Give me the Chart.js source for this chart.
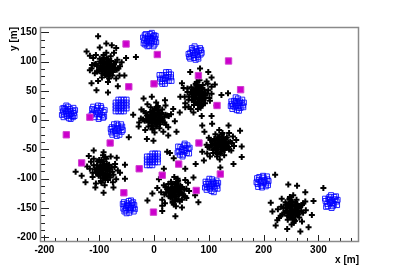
<!DOCTYPE html>
<html>
<head>
<meta charset="utf-8">
<script src="https://cdn.jsdelivr.net/npm/chart.js@4.4.1/dist/chart.umd.min.js"></script>
<style>
  html, body { margin: 0; padding: 0; background: #fff; }
  .chart-holder { width: 399px; height: 270px; }
</style>
</head>
<body>
<div class="chart-holder"><canvas id="chart" width="399" height="270"></canvas></div>
<script>
// black "+" clusters: centre (x, y) in m, then the offsets of each marker
const crossCenters = [[-87, 91], [2, 4], [81, 43], [-92, -85], [120, -42], [39, -122], [252, -153]];
const crossOffsets = [
  [[0,0],[4,3],[-5,-2],[8,-5],[-7,6],[2,9],[-3,-8],[11,2],[-10,-3],[12,-9],[-12,9],[6,-12],[-6,12],[14,5],[-14,-6],[1,14],[-2,-14],[9,10],[-9,-11],[16,-2],[-17,2],[4,-17],[-5,16],[11,-15],[-12,14],[20,12],[-21,-11],[18,-20],[-19,20],[25,1],[-26,3],[0,24],[3,-26],[24,-15],[-24,15],[14,24],[-15,-24],[28,8],[-30,-6],[-15,52],[0,40],[-12,33],[18,32],[-30,19],[54,17],[36,15],[-27,-3],[33,-15],[-27,-28],[-18,-40],[3,-44],[21,-33],[-36,26],[10,37],
   [2,5],[-3,4],[6,-2],[-6,1],[1,-5],[-1,-4],[5,7],[-7,-7],[8,1],[-8,-1],[3,12],[-3,-12],[13,2],[-13,-1],[7,-9],[-7,9],[10,-6],[-10,6],[17,8],[-17,-8],[8,18],[-8,-18],[19,-5],[-19,5],[5,-20],[-5,20],[22,-3],[-22,4],[4,-9],[-4,8]],
  [[0,0],[-4,3],[5,-3],[-8,-5],[7,6],[-2,9],[3,-9],[-11,1],[10,-2],[-12,-8],[12,8],[-6,-13],[6,13],[-15,4],[14,-5],[-1,15],[2,-15],[-9,10],[9,-11],[-16,-3],[17,2],[-4,-18],[5,17],[-12,-15],[13,14],[-21,11],[20,-12],[-18,-21],[19,21],[-26,-1],[25,3],[-1,-25],[2,26],[-25,14],[24,-16],[-14,23],[15,-24],[-29,-8],[29,6],[-21,33],[-6,36],[18,30],[33,15],[45,9],[39,-24],[24,-30],[-48,-33],[-30,-15],[-15,-36],[-3,-39],[27,-60],[22,-58],[-40,5],[36,-6],
   [-2,5],[3,4],[-6,-2],[6,1],[-1,-5],[1,-4],[-5,7],[7,-7],[-8,1],[8,-1],[-3,12],[3,-12],[-13,2],[13,-1],[-7,-9],[7,9],[-10,-6],[10,6],[-17,8],[17,-8],[-8,18],[8,-18],[-19,-5],[19,5],[-5,-20],[5,20],[-22,-3],[22,4],[-4,-9],[4,8]],
  [[0,0],[4,-3],[-4,3],[7,5],[-8,-5],[-2,8],[2,-9],[10,-1],[-11,2],[11,9],[-12,-9],[5,12],[-6,-12],[13,-5],[-14,5],[-1,-14],[1,15],[-9,9],[9,-10],[16,2],[-17,-2],[-4,17],[5,-17],[-13,13],[12,-14],[21,-10],[-20,11],[17,19],[-18,-20],[24,2],[-25,-3],[-1,-24],[2,25],[-24,-14],[24,14],[-14,-24],[15,23],[3,45],[18,39],[-15,39],[24,30],[30,18],[54,3],[42,0],[-33,-3],[-27,12],[-24,-21],[-9,-30],[6,-36],[24,-36],[-30,20],[33,-18],
   [5,2],[4,-3],[-2,6],[1,-6],[-5,1],[-4,-1],[7,5],[-7,-7],[1,8],[-1,-8],[12,3],[-12,-3],[2,13],[-1,-13],[-9,7],[9,-7],[-6,10],[6,-10],[8,17],[-8,-17],[18,8],[-18,-8],[-5,19],[5,-19],[-20,5],[20,-5],[-3,22],[4,-22],[-9,4],[8,-4]],
  [[0,0],[3,4],[-4,-3],[7,-6],[-7,5],[-2,9],[3,-8],[10,3],[-10,-2],[11,-10],[-12,8],[5,-12],[-6,13],[15,4],[-14,-5],[0,15],[-1,-14],[10,9],[-9,-10],[16,-3],[-16,1],[3,-17],[-4,17],[12,-13],[-11,15],[21,10],[-20,-12],[17,-21],[-18,19],[26,-1],[-25,2],[-1,25],[2,-26],[23,-16],[-23,14],[13,23],[-14,-23],[-51,-3],[-18,33],[0,30],[24,21],[39,9],[39,-15],[-30,6],[-33,-21],[-15,-30],[0,-39],[18,-30],[-27,24],[30,-5],[-40,-10],
   [-5,2],[-4,-3],[2,6],[-1,-6],[5,1],[4,-1],[-7,5],[7,-7],[-1,8],[1,-8],[-12,3],[12,-3],[-2,13],[1,-13],[9,7],[-9,-7],[6,10],[-6,-10],[-8,17],[8,-17],[-18,8],[18,-8],[5,19],[-5,-19],[20,5],[-20,-5],[3,22],[-4,-22],[9,4],[-8,-4]],
  [[0,0],[-3,4],[4,-4],[-7,-5],[8,5],[-3,8],[2,-8],[-10,2],[11,-3],[-12,-9],[11,10],[-5,-13],[6,12],[-14,5],[15,-4],[-1,14],[1,-15],[-10,10],[9,-9],[-16,-1],[16,3],[-4,-16],[4,17],[-12,-14],[13,13],[-20,12],[21,-10],[-18,-20],[17,20],[-24,0],[26,-2],[0,-25],[-1,25],[-23,-15],[24,14],[-32,33],[-14,36],[16,33],[37,24],[40,-3],[40,-21],[25,-33],[1,-39],[-29,-27],[-44,-33],[-32,-12],[30,8],[-28,22],
   [2,-5],[-3,-4],[6,2],[-6,-1],[1,5],[-1,4],[5,-7],[-7,7],[8,-1],[-8,1],[3,-12],[-3,12],[13,-2],[-13,1],[7,9],[-7,-9],[10,6],[-10,-6],[17,-8],[-17,8],[8,-18],[-8,18],[19,5],[-19,-5],[5,20],[-5,-20],[22,3],[-22,-4],[4,9],[-4,-8]],
  [[0,0],[4,3],[-4,-3],[7,-5],[-8,5],[3,9],[-2,-9],[10,-2],[-11,1],[12,8],[-12,-8],[5,-13],[-5,12],[14,-6],[-15,4],[0,-15],[1,14],[9,10],[-9,-10],[16,3],[-17,-2],[-5,-17],[4,17],[12,-14],[-13,13],[20,-11],[-21,11],[18,20],[-19,-20],[25,1],[-26,-1],[1,-25],[-2,25],[23,15],[-24,-14],[-3,57],[-21,39],[18,39],[33,24],[-30,21],[-33,6],[-42,-3],[-51,-15],[-24,-33],[0,-42],[12,-27],[42,-18],[36,-6],[-24,-24],
   [5,-2],[4,3],[-2,-6],[1,6],[-5,-1],[-4,1],[7,-5],[-7,7],[1,-8],[-1,8],[12,-3],[-12,3],[2,-13],[-1,13],[-9,-7],[9,7],[-6,-10],[6,10],[8,-17],[-8,17],[18,-8],[-18,8],[-5,-19],[5,19],[-20,-5],[20,5],[-3,-22],[4,22],[-9,-4],[8,4]],
  [[0,0],[-4,3],[4,-3],[-7,-6],[8,6],[-2,9],[3,-9],[-11,-2],[10,2],[-12,9],[12,-8],[-5,-12],[6,13],[-14,-5],[15,5],[1,-15],[-1,14],[-9,-10],[9,10],[-16,3],[17,-2],[4,-17],[-4,17],[-12,13],[13,-13],[-21,-10],[20,11],[-19,19],[18,-20],[-26,1],[25,-1],[2,25],[-1,-25],[-24,-14],[24,14],[-31,60],[57,37],[-7,43],[9,41],[24,30],[39,15],[-39,12],[-36,-3],[-27,-18],[-30,-27],[-9,-33],[15,-37],[30,-30],[36,-9],
   [-5,-2],[-4,3],[2,-6],[-1,6],[5,-1],[4,1],[-7,-5],[7,7],[-1,-8],[1,8],[-12,-3],[12,3],[-2,-13],[1,13],[9,-7],[-9,7],[6,-10],[-6,10],[-8,-17],[8,17],[-18,-8],[18,8],[5,-19],[-5,19],[20,-5],[-20,5],[3,-22],[-4,22],[9,-4],[-8,4]],
];

// blue open-square clusters
const boxCenters = [[-8, 137], [75, 114], [-156, 13], [-102, 13], [-60, 25], [-68, -16], [21, 72], [54, -51], [-3, -67], [-46, -148], [152, 27], [105, -111], [198, -105], [323, -139]];
const boxOffsets = [
  [[0,0],[5,2],[-5,-2],[3,-6],[-3,6],[8,-3],[-8,3],[6,6],[-6,-6],[10,2],[-10,-1],[1,10],[-1,-10],[9,-8],[-9,8],[11,7],[-11,-6],[4,12],[-4,-11],[12,-4],[-12,4],[7,-11],[-7,10],[2,3],[-2,-4],[4,-2],[-4,2],[8,8],[-8,-8]],
  [[0,0],[4,-3],[-4,3],[7,4],[-7,-4],[2,8],[-2,-8],[10,-2],[-9,1],[6,-9],[-6,9],[11,6],[-11,-6],[-1,12],[1,-11],[9,9],[-9,-9],[3,3],[-3,-3],[5,-6],[-5,6],[12,1],[-12,-1]],
  [[0,0],[-5,2],[5,-2],[-3,-6],[3,6],[-8,-3],[8,3],[-6,6],[6,-6],[-10,2],[10,-1],[-1,10],[1,-10],[-9,-8],[9,8],[-11,7],[11,-6],[-4,12],[4,-11],[-12,-4],[12,4],[-2,3],[2,-4],[-4,-2],[4,2],[-8,8],[8,-8]],
  [[0,0],[4,3],[-4,-3],[7,-4],[-7,4],[2,-8],[-2,8],[10,1],[-10,-1],[6,8],[-6,-8],[11,-7],[-11,6],[0,12],[1,-11],[-9,10],[9,-9],[12,4],[3,-3],[-3,3],[-12,-4],[5,11]],
  [[0,0],[5,0],[-5,0],[0,5],[0,-5],[5,5],[-5,-5],[5,-5],[-5,5],[10,0],[-10,0],[0,10],[0,-10],[10,5],[-10,-5],[5,10],[-5,-10],[10,-5],[-10,5],[-5,10],[5,-10],[10,10],[-10,-10]],
  [[0,0],[4,-3],[-4,3],[7,3],[-7,-3],[2,7],[-2,-7],[9,-4],[-9,4],[5,-9],[-5,9],[10,5],[-10,-5],[0,10],[0,-11],[8,9],[-8,-9],[3,2],[-3,-2],[-11,1],[11,-1]],
  [[0,0],[5,1],[-5,-1],[1,5],[-1,-5],[6,6],[-6,-6],[6,-5],[-6,5],[10,1],[-10,-1],[1,10],[-1,-10],[10,6],[-10,-6],[6,10],[-6,-10],[11,-5],[-11,5]],
  [[0,0],[4,3],[-4,-3],[6,-5],[-6,5],[1,8],[-1,-8],[9,2],[-9,-2],[7,8],[-7,-8],[10,-6],[-10,6],[2,11],[-2,-11],[11,4],[-11,-4],[3,-2],[-3,2]],
  [[0,0],[5,0],[-5,0],[0,5],[0,-5],[5,5],[-5,-5],[5,-5],[-5,5],[10,0],[-10,0],[0,10],[0,-10],[10,5],[-10,-5],[10,-5],[-10,5],[5,10],[-5,-10],[10,10],[-10,-10]],
  [[0,0],[5,2],[-5,-2],[3,-6],[-3,6],[8,-2],[-8,2],[6,6],[-6,-6],[10,3],[-10,-3],[0,10],[1,-10],[9,-8],[-9,8],[11,-4],[-11,5],[4,11],[-4,-11],[2,-3],[-2,3],[-4,2],[4,-2],[-8,-8],[8,8]],
  [[0,0],[-4,2],[4,-2],[2,-6],[-2,6],[-8,-2],[8,2],[-6,6],[6,-6],[-10,1],[10,-2],[1,10],[-1,-10],[-9,-8],[9,8],[-11,5],[11,-5],[-3,12],[3,-11],[12,3],[-12,-3],[-2,-3],[2,3],[5,5],[-5,-5]],
  [[0,0],[5,-2],[-5,2],[3,6],[-3,-6],[8,3],[-8,-3],[6,-6],[-6,6],[10,-1],[-10,2],[0,-10],[1,10],[9,8],[-9,-8],[11,-6],[-11,6],[4,-12],[-4,11],[12,4],[-12,-4],[2,2],[-2,-2],[-5,-4],[5,4]],
  [[0,0],[4,3],[-4,-3],[7,-3],[-7,3],[2,7],[-2,-7],[9,4],[-9,-4],[6,-8],[-6,8],[10,-6],[-10,6],[1,10],[-1,-10],[8,9],[-8,-9],[3,-1],[-3,1],[11,1],[-11,-1]],
  [[0,0],[-4,3],[4,-3],[7,4],[-7,-4],[3,-8],[-3,8],[10,0],[-10,1],[6,8],[-6,-8],[11,-6],[-11,5],[0,11],[1,-11],[-9,-9],[9,9],[12,3],[2,2],[-2,-2],[-5,5],[5,-5]],
];

// magenta filled squares
const magentaX = [-51, 6, -46, 0, 81, 136, 158, 115, -117, -160, -80, 82, -132, -27, 45, 15, 121, -55, 77, -1];
const magentaY = [130, 112, 57, 62, 76, 101, 52, 25, 5, -25, -39, -39, -73, -83, -75, -94, -92, -124, -120, -157];

const xTickLabels = [-200, -100, 0, 100, 200, 300];
const yTickLabels = [-200, -150, -100, -50, 0, 50, 100, 150];

const buildClusters = (centers, offsets) => {
  let points = [];
  centers.forEach((center, i) => {
    offsets[i].forEach((off) => {
      points = [...points, { x: center[0] + off[0], y: center[1] + off[1] }];
    });
  });
  return points;
};

const magentaPoints = magentaX.map((x, i) => ({ x, y: magentaY[i] }));

const labelFont = { family: '"Liberation Sans", Arial, sans-serif', size: 10, weight: 'bold' };

const frameTicks = {
  id: 'frameTicks',
  afterDraw(chart) {
    const { ctx, chartArea: area, scales } = chart;
    ctx.save();
    ctx.strokeStyle = '#222';
    ctx.lineWidth = 1;
    ctx.beginPath();
    scales.x.ticks.forEach((tick) => {
      const px = Math.round(scales.x.getPixelForValue(tick.value)) + 0.5;
      const len = xTickLabels.includes(tick.value) ? 7 : 4;
      ctx.moveTo(px, area.bottom);
      ctx.lineTo(px, area.bottom - len);
    });
    scales.y.ticks.forEach((tick) => {
      const py = Math.round(scales.y.getPixelForValue(tick.value)) + 0.5;
      const len = yTickLabels.includes(tick.value) ? 9 : 5;
      ctx.moveTo(area.left, py);
      ctx.lineTo(area.left + len, py);
    });
    ctx.stroke();
    ctx.strokeStyle = '#8a8a8a';
    ctx.lineWidth = 1.5;
    ctx.strokeRect(Math.round(area.left) + 0.5, Math.round(area.top) + 0.5,
      Math.round(area.right - area.left) - 1, Math.round(area.bottom - area.top) - 1);
    ctx.restore();
  },
};

const chart = new Chart(document.getElementById('chart'), {
  type: 'scatter',
  data: {
    datasets: [
      {
        data: magentaPoints,
        pointStyle: 'rect',
        pointRadius: 4.5,
        borderWidth: 1,
        borderColor: '#d040d0',
        backgroundColor: '#cc00cc',
      },
      {
        data: buildClusters(boxCenters, boxOffsets),
        pointStyle: 'rect',
        pointRadius: 3.5,
        borderWidth: 1,
        borderColor: 'rgba(0, 0, 255, 0.85)',
        backgroundColor: 'rgba(0, 0, 0, 0)',
      },
      {
        data: buildClusters(crossCenters, crossOffsets),
        pointStyle: 'cross',
        pointRadius: 3,
        borderWidth: 2,
        borderColor: '#000',
        backgroundColor: '#000',
      },
    ],
  },
  options: {
    responsive: false,
    animation: false,
    events: [],
    layout: { padding: { top: 27, right: 40, left: 0, bottom: 0 } },
    plugins: { legend: { display: false }, tooltip: { enabled: false } },
    scales: {
      x: {
        type: 'linear',
        min: -208,
        max: 374,
        afterFit: (scale) => { scale.height = 28; },
        grid: { display: false, drawTicks: false, tickLength: 0 },
        border: { display: false },
        ticks: {
          stepSize: 20,
          includeBounds: false,
          autoSkip: false,
          maxRotation: 0,
          padding: 2,
          color: '#000',
          font: labelFont,
          callback: (v) => (xTickLabels.includes(v) ? String(v) : ''),
        },
        title: {
          display: true,
          text: 'x [m]',
          align: 'end',
          color: '#000',
          font: labelFont,
          padding: { top: 0, bottom: 4 },
        },
      },
      y: {
        type: 'linear',
        min: -208,
        max: 159,
        afterFit: (scale) => { scale.width = 40; },
        grid: { display: false, drawTicks: false, tickLength: 0 },
        border: { display: false },
        ticks: {
          stepSize: 12.5,
          includeBounds: false,
          autoSkip: false,
          padding: 3,
          color: '#000',
          font: labelFont,
          callback: (v) => (yTickLabels.includes(v) ? String(v) : ''),
        },
        title: {
          display: true,
          text: 'y [m]',
          align: 'end',
          color: '#000',
          font: labelFont,
          padding: { top: 8, bottom: 0 },
        },
      },
    },
  },
  plugins: [frameTicks],
});
</script>
</body>
</html>
